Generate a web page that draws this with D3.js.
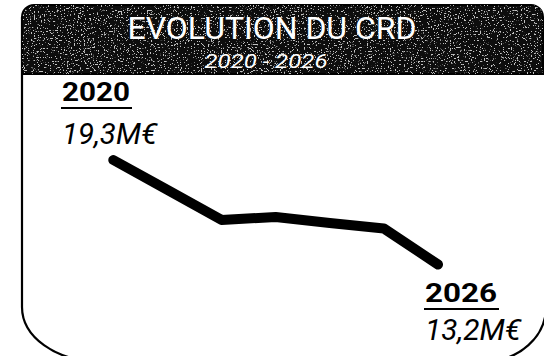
<!DOCTYPE html>
<html>
<head>
<meta charset="utf-8">
<script src="https://cdn.jsdelivr.net/npm/d3@7"></script>
<style>
  html, body { margin: 0; padding: 0; background: #fff; }
  svg { display: block; }
</style>
</head>
<body>
<svg id="chart" width="544" height="356"></svg>
<script>
// Capital restant dû (M€) per year
const years = [2020, 2021, 2022, 2023, 2024, 2025, 2026];
const crd = [19.3, 17.55, 15.8, 15.97, 15.62, 15.3, 13.2];
const title = "EVOLUTION DU CRD";
const subtitle = "2020 - 2026";
const startLabel = { year: "2020", value: "19,3M€" };
const endLabel = { year: "2026", value: "13,2M€" };

const svg = d3.select("#chart");

// frame geometry
const fx0 = 22, fx1 = 546, fy0 = 5, rTop = 12, headH = 69;
const cornerY = 307, ry = 54, rxL = 75, rxR = 60;

const defs = svg.append("defs");
const grain = defs.append("filter").attr("id", "grain")
  .attr("x", 0).attr("y", 0).attr("width", 1).attr("height", 1);
grain.append("feTurbulence").attr("type", "fractalNoise")
  .attr("baseFrequency", 0.7).attr("numOctaves", 2).attr("seed", 11).attr("result", "n");
grain.append("feColorMatrix").attr("in", "n").attr("type", "matrix")
  .attr("values", "0 0 0 0 1  0 0 0 0 1  0 0 0 0 1  16 0 0 0 -9.9").attr("result", "dots");
grain.append("feComposite").attr("in", "dots").attr("in2", "SourceGraphic").attr("operator", "in");

// outer frame with rounded lower corners
const frameD = [
  `M${fx0},${fy0 + rTop}`,
  `L${fx0},${cornerY}`,
  `A${rxL},${ry} 0 0 0 ${fx0 + rxL},${cornerY + ry}`,
  `L${fx1 - rxR},${cornerY + ry}`,
  `A${rxR},${ry} 0 0 0 ${fx1},${cornerY}`,
  `L${fx1},${fy0 + rTop}`
].join(" ");
svg.append("path").attr("d", frameD)
  .attr("fill", "none").attr("stroke", "#000").attr("stroke-width", 2.2);

// header band
const headPath = d3.path();
headPath.moveTo(fx0, fy0 + headH);
headPath.lineTo(fx0, fy0 + rTop);
headPath.arcTo(fx0, fy0, fx0 + rTop, fy0, rTop);
headPath.lineTo(fx1 - rTop - 3, fy0);
headPath.arcTo(fx1 - 3, fy0, fx1 - 3, fy0 + rTop, rTop);
headPath.lineTo(fx1 - 3, fy0 + headH);
headPath.closePath();
svg.append("path").attr("d", headPath.toString())
  .attr("fill", "#0d0d0d").attr("stroke", "#000").attr("stroke-width", 2);
svg.append("path").attr("d", headPath.toString())
  .attr("fill", "#fff").attr("filter", "url(#grain)").attr("opacity", 0.75);

svg.append("text").attr("x", 272).attr("y", 39)
  .attr("text-anchor", "middle")
  .attr("font-family", "Roboto, sans-serif").attr("font-weight", 400).attr("font-size", 31)
  .attr("textLength", 289).attr("lengthAdjust", "spacingAndGlyphs")
  .attr("fill", "#fff").text(title);
svg.append("text").attr("x", 266).attr("y", 68)
  .attr("text-anchor", "middle")
  .attr("font-family", "Roboto, sans-serif").attr("font-style", "italic").attr("font-size", 20)
  .attr("textLength", 123).attr("lengthAdjust", "spacingAndGlyphs")
  .attr("fill", "#fff").text(subtitle);

// scales
const x = d3.scaleLinear().domain([2020, 2026]).range([113.3, 438]);
const y = d3.scaleLinear().domain([13.2, 19.3]).range([264.5, 160]);

const line = d3.line().x((d, i) => x(years[i])).y(d => y(d));
svg.append("path").datum(crd).attr("d", line)
  .attr("fill", "none").attr("stroke", "#000").attr("stroke-width", 10)
  .attr("stroke-linecap", "round").attr("stroke-linejoin", "round");

// start / end labels
function endText(xl, yYear, yVal, lab, wYear, wVal) {
  svg.append("text").attr("x", xl).attr("y", yYear)
    .attr("font-family", "Roboto, sans-serif").attr("font-weight", 700).attr("font-size", 25)
    .attr("textLength", wYear).attr("lengthAdjust", "spacingAndGlyphs")
    .attr("fill", "#000").text(lab.year);
  svg.append("line").attr("x1", xl - 1).attr("x2", xl + wYear + 2)
    .attr("y1", yYear + 7).attr("y2", yYear + 7)
    .attr("stroke", "#000").attr("stroke-width", 2);
  svg.append("text").attr("x", xl).attr("y", yVal)
    .attr("font-family", "Roboto, sans-serif").attr("font-style", "italic").attr("font-weight", 400)
    .attr("font-size", 29)
    .attr("textLength", wVal).attr("lengthAdjust", "spacingAndGlyphs")
    .attr("fill", "#000").text(lab.value);
}
endText(62, 101, 144, startLabel, 68, 95);
endText(425, 302, 340, endLabel, 72, 96);
</script>
</body>
</html>
